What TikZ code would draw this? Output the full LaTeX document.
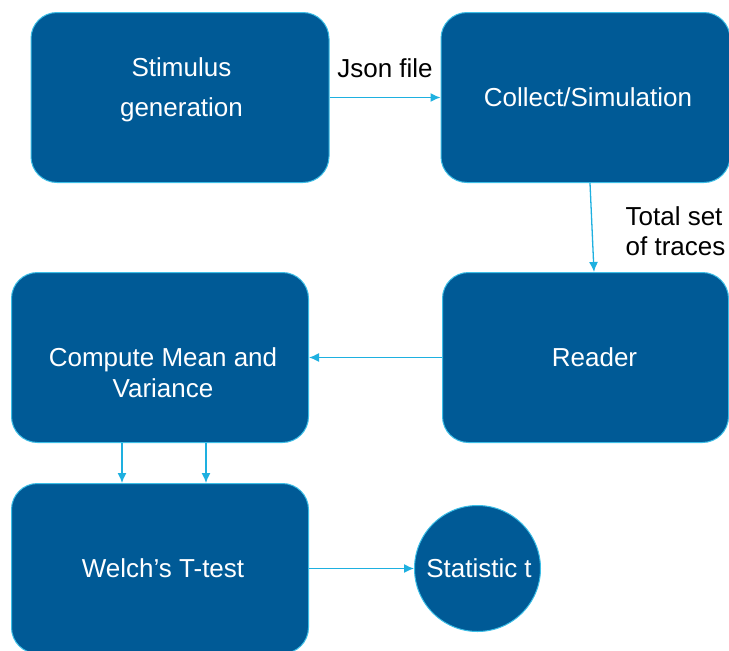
\documentclass[tikz,border=0pt]{standalone}
\usepackage{fontspec}
\setmainfont{Liberation Sans}
\usetikzlibrary{shapes.geometric, arrows.meta, positioning}

\definecolor{boxblue}{RGB}{0,90,150}
\definecolor{edgecyan}{RGB}{60,190,230}
\definecolor{arrowcyan}{RGB}{30,176,224}

\begin{document}
\begin{tikzpicture}[node distance=1cm, font=\fontsize{26}{31}\selectfont]
    \tikzstyle{block} = [rectangle, draw=edgecyan, line width=1pt, fill=boxblue,
        text=white, align=center, rounded corners=26pt,
        minimum height=170pt, inner sep=0pt]
    \tikzstyle{result} = [circle, draw=edgecyan, line width=1pt, fill=boxblue,
        text=white, minimum size=126pt, inner sep=0pt]
    \tikzstyle{line} = [draw=arrowcyan, line width=1.3pt, -{Latex[length=10pt, width=9pt]}]
    \tikzstyle{note} = [font=\fontsize{26}{30}\selectfont, align=left, inner sep=3pt]

    \useasboundingbox (0,0) rectangle (729pt,-651pt);

    \node [block, minimum width=298pt] (stim) at (180pt,-97.5pt) {\hspace*{3pt}Stimulus\\[9pt] \hspace*{3pt}generation\\[-10pt]\mbox{}};
    \node [block, minimum width=289pt] (collect) [right=111pt of stim] {\hspace*{5pt}Collect/Simulation};
    \node [block, minimum width=286pt] (reader) [below=89pt of collect] {\hspace*{18pt}Reader};
    \node [block, minimum width=297pt] (compute) [left=133pt of reader] {\mbox{}\\[18pt] \hspace*{6pt}Compute Mean and\\ \hspace*{6pt}Variance};
    \node [block, minimum width=297pt] (welch) [below=40pt of compute] {\hspace*{6pt}Welch's T-test};
    \node [result] (stat) [right=105pt of welch] {\hspace*{3pt}Statistic t};

    \path [line] (stim) -- node [above=16pt] (json) {Json file} (collect);
    \path [line] ([xshift=4.5pt]collect.south) -- node [note, right=30pt, yshift=-4pt] (traces) {Total set\\ of traces} ([xshift=8.5pt]reader.north);
    \path [line] (reader) -- (compute);
    \path [line] ([xshift=-38pt]compute.south) -- ([xshift=-38pt]welch.north);
    \path [line] ([xshift=46pt]compute.south) -- ([xshift=46pt]welch.north);
    \path [line] (welch) -- (stat);
\end{tikzpicture}
\end{document}
